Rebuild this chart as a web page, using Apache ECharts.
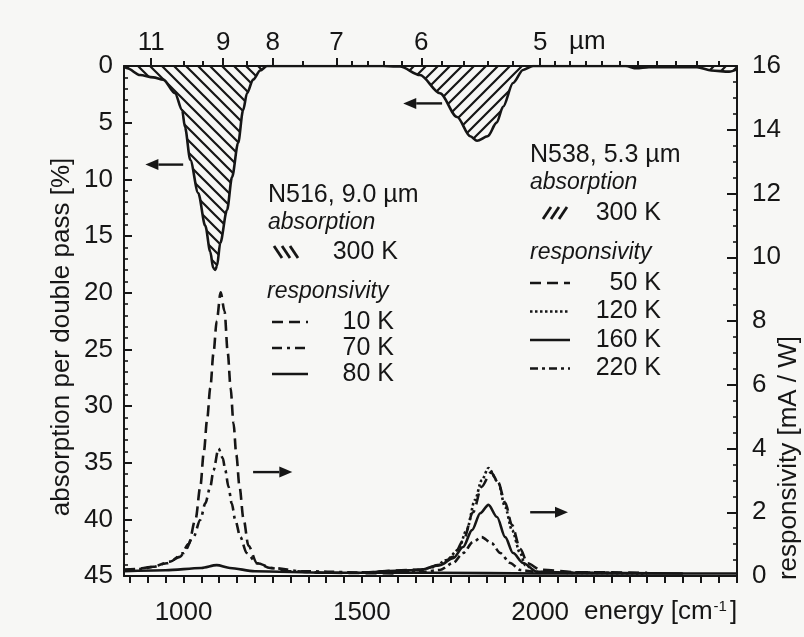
<!DOCTYPE html>
<html><head><meta charset="utf-8">
<script src="https://cdn.jsdelivr.net/npm/echarts@6/dist/echarts.min.js"></script>
<style>html,body{margin:0;padding:0;background:#f7f7f5}#c{width:804px;height:637px}</style>
</head><body><div id="c"></div>
<script>
// ---------------- data ----------------
const energyLabels = [1000, 1500, 2000];
const energyTicks = [];
for (let v = 850; v <= 2550; v += 50) energyTicks.push(v);
const wavelengthLabels = [11, 9, 8, 7, 6, 5];
const wavelengthMinorTicks = [10, 9.5, 8.5, 7.5, 6.8, 6.6, 6.4, 6.2, 5.8, 5.6, 5.4, 5.2, 4.9, 4.8, 4.7, 4.6, 4.5, 4.4, 4.3, 4.2, 4.1, 4.0];

// absorption per double pass [%] (left axis), x = energy [cm^-1]
const absN516 = [[833,0],[842,0.2],[878,0.8],[915,1.0],[943,1.2],[976,2.4],[996,3.9],[1004,5.4],[1019,8.3],[1041,11.2],[1061,14.1],[1075,16.4],[1083,17.8],[1089,18.0],[1094,17.6],[1103,15.6],[1122,12.7],[1136,9.8],[1153,6.8],[1167,3.9],[1178,2.4],[1195,1.2],[1215,0.4],[1234,0],[1560,0]];
const absN538 = [[1560,0],[1607,0.05],[1663,0.8],[1719,2.4],[1767,4.5],[1804,6.2],[1823,6.6],[1853,6.2],[1878,5.0],[1896,3.6],[1924,1.5],[1952,0.35],[1980,0],[2240,0],[2270,0.2],[2305,0.1],[2440,0.1],[2480,0.4],[2530,0.5],[2552,0.3]];

// responsivity [mA/W] (right axis)
const respN516_10K = [[833,0.2],[870,0.22],[907,0.28],[953,0.4],[990,0.6],[1014,1.0],[1034,1.8],[1047,2.8],[1057,3.9],[1066,4.9],[1075,5.9],[1084,7.0],[1093,8.0],[1104,8.9],[1115,8.3],[1124,7.0],[1132,5.9],[1140,4.8],[1148,3.8],[1157,2.8],[1168,1.8],[1182,0.95],[1206,0.4],[1243,0.25],[1300,0.15],[1400,0.1],[1600,0.08]];
const respN516_70K = [[833,0.18],[880,0.22],[915,0.29],[962,0.45],[1000,0.72],[1028,1.23],[1047,1.76],[1061,2.28],[1075,2.8],[1084,3.32],[1098,4.0],[1110,3.7],[1117,3.32],[1126,2.8],[1135,2.28],[1145,1.76],[1159,1.23],[1177,0.72],[1206,0.4],[1251,0.25],[1330,0.15],[1500,0.1]];
const respN516_80K = [[833,0.15],[950,0.18],[1050,0.25],[1093,0.34],[1130,0.25],[1200,0.15],[1400,0.1],[1700,0.1],[2000,0.08],[2552,0.08]];
const respN538_50K = [[1500,0.1],[1663,0.2],[1719,0.35],[1756,0.6],[1784,1.1],[1812,2.0],[1836,2.8],[1862,3.25],[1882,2.95],[1902,2.3],[1921,1.6],[1944,0.85],[1965,0.4],[2000,0.2],[2100,0.12],[2300,0.1]];
const respN538_120K = [[1500,0.1],[1600,0.15],[1663,0.19],[1700,0.28],[1738,0.5],[1770,0.82],[1794,1.44],[1817,2.38],[1836,3.0],[1855,3.39],[1882,2.95],[1902,2.16],[1921,1.44],[1944,0.72],[1958,0.34],[1991,0.13],[2056,0.1],[2300,0.08]];
const respN538_160K = [[1500,0.1],[1663,0.19],[1719,0.34],[1756,0.56],[1784,0.91],[1809,1.44],[1832,1.97],[1855,2.23],[1879,1.85],[1902,1.22],[1924,0.72],[1952,0.41],[1991,0.13],[2100,0.1],[2400,0.08]];
const respN538_220K = [[1500,0.1],[1663,0.12],[1719,0.19],[1756,0.41],[1784,0.72],[1812,1.07],[1836,1.22],[1864,1.03],[1888,0.72],[1916,0.41],[1944,0.19],[1990,0.12],[2200,0.1]];

// legend / annotation text
const n516Title = 'N516, 9.0 µm';
const n538Title = 'N538, 5.3 µm';
const absTemp = '300 K';
const n516RespLabels = ['10 K', '70 K', '80 K'];
const n538RespLabels = ['50 K', '120 K', '160 K', '220 K'];
// arrows in data coordinates (axis: 0 = absorption, 1 = responsivity)
const arrows = [
  {axis: 0, from: [999, 8.7], to: [893, 8.7]},
  {axis: 0, from: [1725, 3.3], to: [1616, 3.3]},
  {axis: 1, from: [1195, 3.26], to: [1305, 3.26]},
  {axis: 1, from: [1972, 2.0], to: [2078, 2.0]}
];

// ---------------- styling ----------------
const INK = '#161616';
const FONT = '"Liberation Sans", Arial, Helvetica, sans-serif';
const DASH = [11, 6], DASHDOT70 = [10, 5, 3, 5], DOT = [2.5, 2.5], DASHDOT220 = [8, 4, 3, 4];

function hatch(dir) {
  const s = 12, c = document.createElement('canvas');
  c.width = s; c.height = s;
  const g = c.getContext('2d');
  g.strokeStyle = INK; g.lineWidth = 2.2; g.lineCap = 'square';
  g.beginPath();
  if (dir === 'back') {
    g.moveTo(-1, -1); g.lineTo(s + 1, s + 1);
    g.moveTo(s - 2, -2); g.lineTo(s + 2, 2);
    g.moveTo(-2, s - 2); g.lineTo(2, s + 2);
  } else {
    g.moveTo(-1, s + 1); g.lineTo(s + 1, -1);
    g.moveTo(-2, 2); g.lineTo(2, -2);
    g.moveTo(s - 2, s + 2); g.lineTo(s + 2, s - 2);
  }
  g.stroke();
  return {image: c, repeat: 'repeat'};
}

const chart = echarts.init(document.getElementById('c'), null, {renderer: 'canvas'});
const xMin = 833, xMax = 2552;
const tickLbl = {fontSize: 26, fontFamily: FONT, color: INK};

function absSeries(name, data, dir) {
  return {name, type: 'line', xAxisIndex: 0, yAxisIndex: 0, data, symbol: 'none', smooth: 0.3,
    smoothMonotone: 'x', lineStyle: {color: INK, width: 2.6}, areaStyle: {color: hatch(dir), opacity: 1}, z: 2};
}
function respSeries(name, data, dash) {
  return {name, type: 'line', xAxisIndex: 0, yAxisIndex: 1, data, symbol: 'none', smooth: 0.3,
    smoothMonotone: 'x', lineStyle: {color: INK, width: 2.6, type: dash, cap: 'butt'}, z: 3};
}

chart.setOption({
  animation: false,
  backgroundColor: '#f7f7f5',
  grid: {left: 124, right: 67, top: 66, bottom: 61, containLabel: false},
  xAxis: [
    {type: 'value', position: 'bottom', min: xMin, max: xMax,
     axisLine: {show: true, onZero: false, lineStyle: {color: INK, width: 2}},
     axisTick: {show: true, customValues: energyTicks, length: 7, lineStyle: {color: INK, width: 2}},
     axisLabel: Object.assign({customValues: energyLabels, margin: 24, formatter: v => String(v)}, tickLbl),
     splitLine: {show: false}},
    {type: 'value', position: 'top', min: xMin, max: xMax,
     axisLine: {show: true, onZero: false, lineStyle: {color: INK, width: 2}},
     axisTick: {show: true, customValues: wavelengthLabels.map(w => 1e4 / w), length: 8, lineStyle: {color: INK, width: 2}},
     axisLabel: Object.assign({customValues: wavelengthLabels.map(w => 1e4 / w), margin: 10,
       formatter: v => String(Math.round(1e5 / v) / 10)}, tickLbl),
     splitLine: {show: false}},
    {type: 'value', position: 'top', min: xMin, max: xMax,
     axisLine: {show: false, onZero: false},
     axisTick: {show: true, customValues: wavelengthMinorTicks.map(w => 1e4 / w), length: 5, lineStyle: {color: INK, width: 2}},
     axisLabel: {show: false}, splitLine: {show: false}}
  ],
  yAxis: [
    {type: 'value', position: 'left', inverse: true, min: 0, max: 45, interval: 5,
     axisLine: {show: true, onZero: false, lineStyle: {color: INK, width: 2}},
     axisTick: {show: true, inside: true, length: 8, lineStyle: {color: INK, width: 2}},
     minorTick: {show: true, splitNumber: 5, length: 4, lineStyle: {color: INK, width: 1.6}},
     axisLabel: Object.assign({margin: 11}, tickLbl),
     splitLine: {show: false}},
    {type: 'value', position: 'right', min: 0, max: 16, interval: 2,
     axisLine: {show: true, onZero: false, lineStyle: {color: INK, width: 2}},
     axisTick: {show: true, inside: true, length: 10, lineStyle: {color: INK, width: 2}},
     minorTick: {show: true, splitNumber: 4, length: 4, lineStyle: {color: INK, width: 1.6}},
     axisLabel: Object.assign({margin: 15}, tickLbl),
     splitLine: {show: false}}
  ],
  series: [
    absSeries('N516 absorption 300 K', absN516, 'back'),
    absSeries('N538 absorption 300 K', absN538, 'fwd'),
    respSeries('N516 10 K', respN516_10K, DASH),
    respSeries('N516 70 K', respN516_70K, DASHDOT70),
    respSeries('N516 80 K', respN516_80K, 'solid'),
    respSeries('N538 50 K', respN538_50K, DASH),
    respSeries('N538 120 K', respN538_120K, DOT),
    respSeries('N538 160 K', respN538_160K, 'solid'),
    respSeries('N538 220 K', respN538_220K, DASHDOT220)
  ]
});

// ---------------- annotations ----------------
function txt(x, y, text, opts) {
  opts = opts || {};
  const st = {text, fontSize: opts.size || 25, fontFamily: FONT, fontStyle: opts.italic ? 'italic' : 'normal',
    fill: INK, align: opts.align || 'left', textAlign: opts.align || 'left',
    verticalAlign: 'middle', textVerticalAlign: 'middle'};
  if (opts.rich) st.rich = opts.rich;
  return {type: 'text', x, y, rotation: opts.rotation || 0, style: st, z: 10};
}
function seg(x1, y1, x2, y2, dash, w) {
  return {type: 'line', shape: {x1, y1, x2, y2}, style: {stroke: INK, lineWidth: w || 2.6, lineDash: dash || null}, z: 10};
}
function hatchIcon(x, y, dir) {
  const els = [];
  for (let i = 0; i < 3; i++) {
    const x0 = x + i * 8;
    if (dir === 'back') els.push(seg(x0, y - 6, x0 + 8, y + 6, null, 2.8));
    else els.push(seg(x0, y + 6, x0 + 8, y - 6, null, 2.8));
  }
  return els;
}
function arrowEls(a) {
  const p1 = chart.convertToPixel({xAxisIndex: 0, yAxisIndex: a.axis}, a.from);
  const p2 = chart.convertToPixel({xAxisIndex: 0, yAxisIndex: a.axis}, a.to);
  const dir = Math.sign(p2[0] - p1[0]);
  const hl = 13, hh = 5.5, bx = p2[0] - dir * hl;
  return [seg(p1[0], p1[1], bx, p2[1], null, 2.4),
    {type: 'polygon', shape: {points: [[p2[0], p2[1]], [bx, p2[1] - hh], [bx, p2[1] + hh]]}, style: {fill: INK}, z: 10}];
}

const g = [];
// axis titles
g.push(txt(62, 337, 'absorption per double pass [%]', {size: 26, align: 'center', rotation: Math.PI / 2}));
g.push(txt(789, 458, 'responsivity [mA / W]', {size: 26, align: 'center', rotation: Math.PI / 2}));
g.push(txt(569, 42, 'µm', {size: 26}));
g.push(txt(584, 612, '{a|energy [cm}{s|-1}{a|]}', {size: 26, rich: {
  a: {fontSize: 26, fontFamily: FONT, fill: INK, color: INK},
  s: {fontSize: 15, fontFamily: FONT, fill: INK, color: INK, verticalAlign: 'top', padding: [0, 3, 0, 1]}}}));

// N516 legend
g.push(txt(268, 195, n516Title, {size: 25}));
g.push(txt(268, 223, 'absorption', {size: 23, italic: true}));
hatchIcon(274, 252, 'back').forEach(e => g.push(e));
g.push(txt(398, 252, absTemp, {size: 25, align: 'right'}));
g.push(txt(267, 292, 'responsivity', {size: 23, italic: true}));
const n516Dash = [DASH, DASHDOT70, null];
n516RespLabels.forEach((l, i) => {
  const y = 322 + i * 26;
  g.push(seg(272, y, 308, y, n516Dash[i]));
  g.push(txt(394, y, l, {size: 25, align: 'right'}));
});

// N538 legend
g.push(txt(530, 155, n538Title, {size: 25}));
g.push(txt(530, 183, 'absorption', {size: 23, italic: true}));
hatchIcon(543, 213, 'fwd').forEach(e => g.push(e));
g.push(txt(661, 213, absTemp, {size: 25, align: 'right'}));
g.push(txt(530, 253, 'responsivity', {size: 23, italic: true}));
const n538Dash = [DASH, DOT, null, DASHDOT220];
n538RespLabels.forEach((l, i) => {
  const y = 283 + i * 28.5;
  g.push(seg(530, y, 570, y, n538Dash[i]));
  g.push(txt(661, y, l, {size: 25, align: 'right'}));
});

arrows.forEach(a => arrowEls(a).forEach(e => g.push(e)));
chart.setOption({graphic: {elements: g}});
</script>
</body></html>
